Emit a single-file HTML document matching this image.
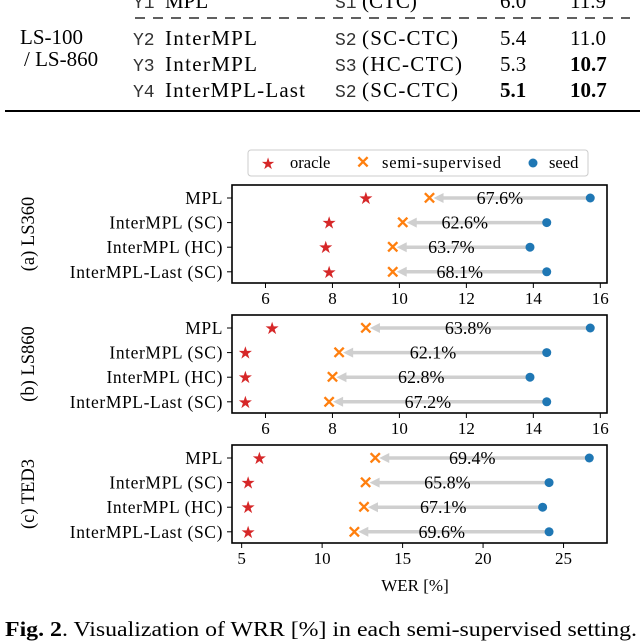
<!DOCTYPE html>
<html><head><meta charset="utf-8"><style>
body{margin:0;background:#fff;}
svg{display:block;font-family:"Liberation Serif",serif;}
</style></head><body>
<svg id="s" width="640" height="642" viewBox="0 0 640 642" xmlns="http://www.w3.org/2000/svg">
<g font-size="21" fill="#000">
<text x="133" y="8" font-family="Liberation Mono" font-size="18" fill="#333">Y1</text><text x="165" y="8">MPL</text><text x="335" y="8" font-family="Liberation Mono" font-size="18" fill="#333">S1</text><text x="362" y="8">(CTC)</text><text x="500" y="8">6.0</text><text x="570" y="8">11.9</text>
<line x1="135" y1="18" x2="630" y2="18" stroke="#000" stroke-width="1.2" stroke-dasharray="10,8"/>
<text x="20" y="44">LS-100</text><text x="24" y="66">/ LS-860</text>
<text x="133" y="45" font-family="Liberation Mono" font-size="18" fill="#333">Y2</text><text x="165" y="45" textLength="92">InterMPL</text><text x="335" y="45" font-family="Liberation Mono" font-size="18" fill="#333">S2</text><text x="362" y="45" textLength="96">(SC-CTC)</text><text x="500" y="45">5.4</text><text x="570" y="45">11.0</text>
<text x="133" y="71" font-family="Liberation Mono" font-size="18" fill="#333">Y3</text><text x="165" y="71" textLength="92">InterMPL</text><text x="335" y="71" font-family="Liberation Mono" font-size="18" fill="#333">S3</text><text x="362" y="71" textLength="100">(HC-CTC)</text><text x="500" y="71">5.3</text><text x="570" y="71" font-weight="bold">10.7</text>
<text x="133" y="97" font-family="Liberation Mono" font-size="18" fill="#333">Y4</text><text x="165" y="97" textLength="140">InterMPL-Last</text><text x="335" y="97" font-family="Liberation Mono" font-size="18" fill="#333">S2</text><text x="362" y="97" textLength="96">(SC-CTC)</text><text x="500" y="97" font-weight="bold">5.1</text><text x="570" y="97" font-weight="bold">10.7</text>
<line x1="5" y1="111" x2="640" y2="111" stroke="#000" stroke-width="2"/>
</g>
<g>
<rect x="248" y="150" width="340" height="26" rx="3" fill="#fff" stroke="#ccc"/>
<text x="268" y="169" font-size="16" fill="#d62728" text-anchor="middle">★</text><text x="290" y="168" font-size="16.5">oracle</text>
<text x="363" y="168" font-size="17" fill="#ff7f0e" text-anchor="middle" font-weight="bold">✕</text><text x="382" y="168" font-size="16.5" textLength="119">semi-supervised</text>
<circle cx="533" cy="163" r="4.5" fill="#1f77b4"/><text x="549" y="168" font-size="16.5">seed</text>
</g>
<g id="plots"></g>
<text x="415" y="591" font-size="17" text-anchor="middle">WER [%]</text>
<text x="5" y="636" font-size="21" textLength="632" lengthAdjust="spacingAndGlyphs"><tspan font-weight="bold">Fig. 2</tspan>. Visualization of WRR [%] in each semi-supervised setting.</text>
</svg>
<script>
const models = ["MPL","InterMPL (SC)","InterMPL (HC)","InterMPL-Last (SC)"];
const panelNames = ["(a) LS360","(b) LS860","(c) TED3"];
const oracleA = [9.0,7.9,7.8,7.9];
const semiA = [10.9,10.1,9.8,9.8];
const seedA = [15.7,14.4,13.9,14.4];
const wrrA = ["67.6%","62.6%","63.7%","68.1%"];
const oracleB = [6.2,5.4,5.4,5.4];
const semiB = [9.0,8.2,8.0,7.9];
const seedB = [15.7,14.4,13.9,14.4];
const wrrB = ["63.8%","62.1%","62.8%","67.2%"];
const oracleC = [6.1,5.4,5.4,5.4];
const semiC = [13.3,12.7,12.6,12.0];
const seedC = [26.6,24.1,23.7,24.1];
const wrrC = ["69.4%","65.8%","67.1%","69.6%"];
const ticksAB = [6,8,10,12,14,16];
const ticksC = [5,10,15,20,25];

const NS="http://www.w3.org/2000/svg";
const root=document.getElementById('plots');
function mk(tag,attrs,parent,text){const e=document.createElementNS(NS,tag);for(const k in attrs)e.setAttribute(k,attrs[k]);if(text!==undefined)e.textContent=text;parent.appendChild(e);return e;}
const L=232,R=607;
const panels=[
 {top:185,o:oracleA,s:semiA,d:seedA,w:wrrA,min:5.0,max:16.2,ticks:ticksAB},
 {top:315,o:oracleB,s:semiB,d:seedB,w:wrrB,min:5.0,max:16.2,ticks:ticksAB},
 {top:445,o:oracleC,s:semiC,d:seedC,w:wrrC,min:4.4,max:27.7,ticks:ticksC}];
panels.forEach((p,pi)=>{
 const g=mk('g',{},root);
 
 
 const H=98,top=p.top,bot=top+H;
 const x=v=>L+(v-p.min)/(p.max-p.min)*(R-L);
 const y=i=>top+13+i*24.6;
 const t=mk('text',{x:0,y:0,'font-size':18.5,'text-anchor':'middle',transform:`translate(34,${top+H/2}) rotate(-90)`},g,panelNames[pi]);
 
 
 p.ticks.forEach(v=>{
  mk('line',{x1:x(v),x2:x(v),y1:bot,y2:bot+5,stroke:'#000'},g);
  const tl=mk('text',{x:x(v),y:bot+21,'font-size':17,'text-anchor':'middle'},g,String(v));
  
  
 });
 models.forEach((m,i)=>{
  const yy=y(i);
  mk('line',{x1:L-5,x2:L,y1:yy,y2:yy,stroke:'#000'},g);
  const ml=mk('text',{x:L-9,y:yy+6,'font-size':17.5,'text-anchor':'end','letter-spacing':'0.6'},g,m);
  
  
  const xs=x(p.s[i]),xd=x(p.d[i]);
  const ar=mk('line',{x1:xd,x2:xs+12,y1:yy,y2:yy,stroke:'#cfcfcf','stroke-width':3.5},g);
  
  
  mk('path',{d:`M${xs+4},${yy} L${xs+14},${yy-5} L${xs+14},${yy+5} Z`,fill:'#cfcfcf'},g);
  const pl=mk('text',{x:(xs+xd)/2-10,y:yy+6,'font-size':18,'text-anchor':'middle'},g,p.w[i]);
  
  
  const st=mk('text',{x:x(p.o[i]),y:yy+6,'font-size':17,fill:'#d62728','text-anchor':'middle'},g,'★');
  
  
  const cr=mk('text',{x:xs,y:yy+6,'font-size':17,'font-weight':'bold',fill:'#ff7f0e','text-anchor':'middle'},g,'✕');
  
  
  const c=mk('circle',{cx:xd,cy:yy,r:4.5,fill:'#1f77b4'},g);
  
  
 });
 mk('rect',{x:L,y:top,width:R-L,height:H,fill:'none',stroke:'#000','stroke-width':1.6},g);
});
</script>
</body></html>
